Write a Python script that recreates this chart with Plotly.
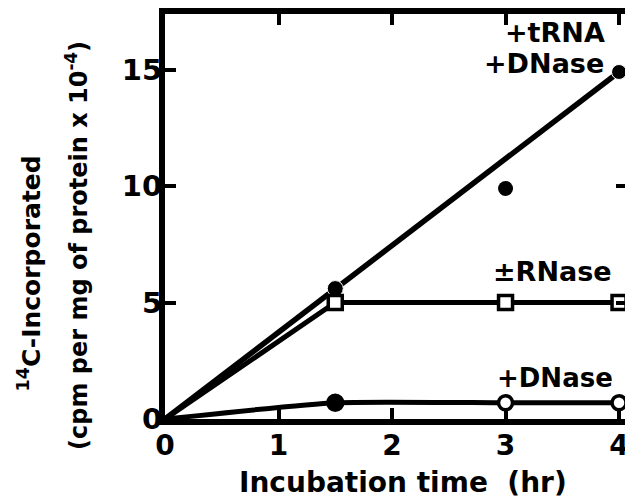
import plotly.graph_objects as go

# ---- data ----
time_trna = [0, 1.5, 4]
val_trna = [0, 5.6, 14.9]
time_trna_extra = [3]
val_trna_extra = [9.9]

time_rnase = [0, 1.5, 3, 4]
val_rnase = [0, 5.0, 5.0, 5.0]

time_dnase = [0, 1.5, 3, 4]
val_dnase = [0, 0.7, 0.7, 0.7]

x_ticks = [0, 1, 2, 3, 4]
y_ticks = [0, 5, 10, 15]

FONT = "DejaVu Sans"
BLACK = "#000000"

fig = go.Figure()

# +tRNA +DNase
fig.add_trace(go.Scatter(
    x=time_trna, y=val_trna, mode="lines+markers",
    line=dict(color=BLACK, width=5.5),
    marker=dict(symbol="circle", size=[0, 16, 15], color=BLACK, opacity=1),
    cliponaxis=False, showlegend=False))
fig.add_trace(go.Scatter(
    x=time_trna_extra, y=val_trna_extra, mode="markers",
    marker=dict(symbol="circle", size=15, color=BLACK, opacity=1),
    showlegend=False))

# ±RNase
fig.add_trace(go.Scatter(
    x=time_rnase, y=val_rnase, mode="lines+markers",
    line=dict(color=BLACK, width=5),
    marker=dict(symbol="square", size=[0, 14, 14, 14], color="white", opacity=1,
                line=dict(color=BLACK, width=3.5)),
    cliponaxis=False, showlegend=False))

# +DNase
fig.add_trace(go.Scatter(
    x=time_dnase, y=val_dnase, mode="lines+markers",
    line=dict(color=BLACK, width=5, shape="spline", smoothing=0.5),
    marker=dict(symbol="circle", size=[0, 15, 14, 14], opacity=1,
                color=[BLACK, BLACK, "white", "white"],
                line=dict(color=BLACK, width=3.5)),
    cliponaxis=False, showlegend=False))

labels = [
    ("+tRNA", 3.44, 16.58, 27),
    ("+DNase", 3.34, 15.26, 27),
    ("\u00b1RNase", 3.41, 6.32, 27),
    ("+DNase", 3.44, 1.75, 26),
]
annotations = []
for txt, lx, ly, sz in labels:
    annotations.append(dict(
        x=lx, y=ly, xref="x", yref="y", text=txt, showarrow=False,
        xanchor="center", yanchor="middle",
        font=dict(family=FONT, size=sz, color=BLACK, weight="bold")))

# axis titles
annotations.append(dict(
    x=(406 - 165) / 468, y=(419 - 483) / 407, xref="paper", yref="paper",
    text="Incubation time  (hr)", showarrow=False,
    xanchor="center", yanchor="middle",
    font=dict(family=FONT, size=28, color=BLACK, weight="bold")))
annotations.append(dict(
    x=(28 - 165) / 468, y=(419 - 273) / 407, xref="paper", yref="paper",
    text="<sup>14</sup>C-Incorporated", showarrow=False, textangle=-90,
    xanchor="center", yanchor="middle",
    font=dict(family=FONT, size=25, color=BLACK, weight="bold")))
annotations.append(dict(
    x=(76 - 165) / 468, y=(419 - 245) / 407, xref="paper", yref="paper",
    text="(cpm per mg of protein x 10<sup>-4</sup>)", showarrow=False,
    textangle=-90, xanchor="center", yanchor="middle",
    font=dict(family=FONT, size=24, color=BLACK, weight="bold")))

# the page body has an 8px default margin, so the figure is shrunk by 8px
fig.update_layout(
    width=625, height=490,
    margin=dict(l=157, r=0, t=4, b=79, pad=0),
    paper_bgcolor="white", plot_bgcolor="white",
    showlegend=False,
    annotations=annotations,
    xaxis=dict(
        range=[0, 4.07], tickvals=x_ticks, ticktext=[str(v) for v in x_ticks],
        ticks="inside", ticklen=11, tickwidth=4, tickcolor=BLACK,
        showline=True, linewidth=6, linecolor=BLACK, mirror="ticks",
        showgrid=False, zeroline=False,
        tickfont=dict(family=FONT, size=28, color=BLACK, weight="bold"),
        ticklabelstandoff=-4,
    ),
    yaxis=dict(
        range=[0, 17.39], tickvals=y_ticks, ticktext=[str(v) for v in y_ticks],
        ticks="inside", ticklen=11, tickwidth=4, tickcolor=BLACK,
        showline=True, linewidth=6, linecolor=BLACK, mirror="ticks",
        showgrid=False, zeroline=False,
        tickfont=dict(family=FONT, size=29, color=BLACK, weight="bold"),
        ticklabelstandoff=-9,
    ),
)

fig.write_html("out.html")
